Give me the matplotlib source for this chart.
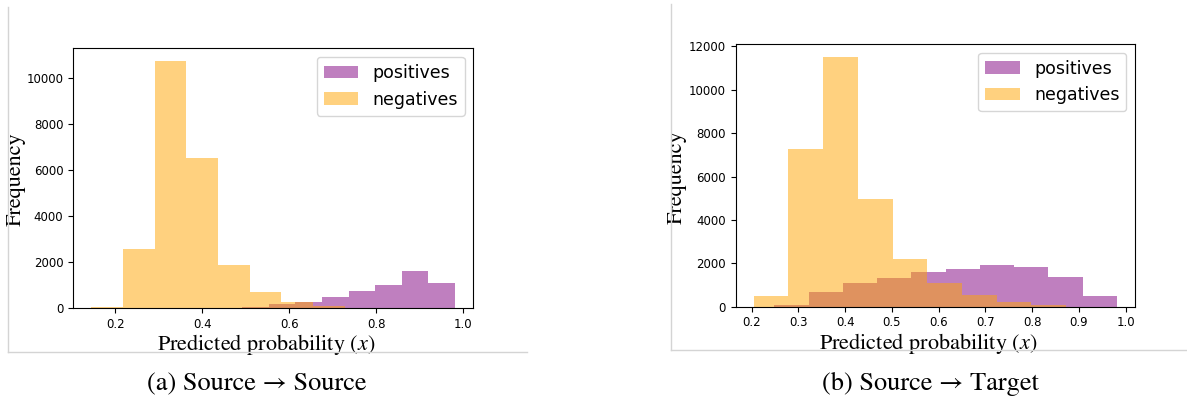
import numpy as np
import matplotlib
matplotlib.use("Agg")
import matplotlib.pyplot as plt
from matplotlib.lines import Line2D

plt.rcParams['mathtext.fontset'] = 'stix'

# ---------------- data ----------------
# (a) Source -> Source
src_neg_edges = [0.1447, 0.2175, 0.2904, 0.3632, 0.4360, 0.5089, 0.5817, 0.6545, 0.7274, 0.8002, 0.8730]
src_neg_counts = [60, 2580, 10750, 6520, 1880, 700, 275, 80, 15, 5]
src_pos_edges = [0.3695, 0.4307, 0.4920, 0.5532, 0.6144, 0.6757, 0.7369, 0.7981, 0.8593, 0.9206, 0.9818]
src_pos_counts = [2, 5, 40, 170, 275, 490, 740, 1000, 1600, 1090]

# (b) Source -> Target
tgt_neg_edges = [0.2043, 0.2786, 0.3529, 0.4272, 0.5015, 0.5758, 0.6501, 0.7244, 0.7987, 0.8730, 0.9473]
tgt_neg_counts = [490, 7290, 11530, 4960, 2190, 1080, 540, 216, 80, 5]
tgt_pos_edges = [0.2484, 0.3217, 0.3950, 0.4683, 0.5416, 0.6149, 0.6882, 0.7615, 0.8348, 0.9081, 0.9814]
tgt_pos_counts = [92, 690, 1110, 1345, 1618, 1740, 1926, 1834, 1387, 495]

series_labels = ["positives", "negatives"]
captions = ["(a) Source \u2192 Source", "(b) Source \u2192 Target"]
xlabel = r"Predicted probability $(x)$"
ylabel = "Frequency"

W, H = 1187, 403
fig = plt.figure(figsize=(W / 100, H / 100), dpi=100)

def px_axes(x0, y0, x1, y1):
    return fig.add_axes([x0 / W, 1 - y1 / H, (x1 - x0) / W, (y1 - y0) / H])

panels = [
    (px_axes(73, 48.3, 473.3, 308.3), src_pos_edges, src_pos_counts, src_neg_edges, src_neg_counts, -0.1187),
    (px_axes(735.5, 44.0, 1135, 306.7), tgt_pos_edges, tgt_pos_counts, tgt_neg_edges, tgt_neg_counts, -0.1227),
]

serif = ['STIXGeneral', 'Liberation Serif', 'DejaVu Serif']

for ax, pe, pc, ne, nc, ylx in panels:
    ax.hist(pe[:-1], bins=pe, weights=pc, color='purple', alpha=0.5, label=series_labels[0])
    ax.hist(ne[:-1], bins=ne, weights=nc, color='orange', alpha=0.5, label=series_labels[1])
    ax.tick_params(labelsize=8.5, length=3.5, width=0.8)
    for s in ax.spines.values():
        s.set_linewidth(0.8)
    ax.set_xlabel(xlabel, fontsize=16, family=serif, labelpad=1)
    ax.set_ylabel(ylabel, fontsize=16, family=serif)
    ax.yaxis.set_label_coords(ylx, 0.495)
    ax.xaxis.label.set_x(0.483)
    ax.legend(loc='upper right', fontsize=12.5)

# panel frames (light gray lines)
gray = '#d4d4d4'
def hline(x0, x1, y):
    fig.add_artist(Line2D([x0 / W, x1 / W], [1 - y / H, 1 - y / H], color=gray, lw=1))
def vline(x, y0, y1):
    fig.add_artist(Line2D([x / W, x / W], [1 - y0 / H, 1 - y1 / H], color=gray, lw=1))

vline(8.3, 7, 351.5)
hline(8.3, 527, 351.5)
vline(670.7, 4, 350)
hline(670.7, 1187, 350)

fig.text(257 / W, 1 - 384 / H, captions[0], ha='center', va='center', fontsize=19, family=serif)
fig.text(930 / W, 1 - 384 / H, captions[1], ha='center', va='center', fontsize=19, family=serif)

fig.savefig("out.png", dpi=100)
